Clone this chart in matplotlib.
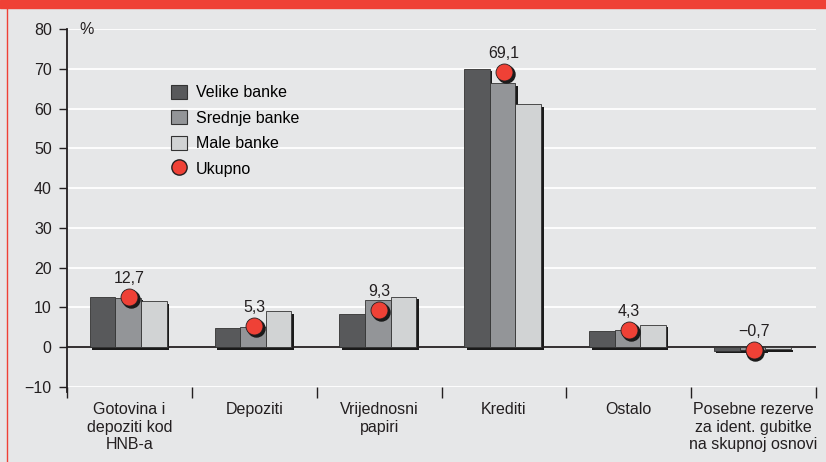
import matplotlib
matplotlib.use('Agg')
import matplotlib.pyplot as plt
import matplotlib.transforms as mtransforms
from matplotlib.patches import Patch, Rectangle
from matplotlib.lines import Line2D
import numpy as np

categories = ['Gotovina i\ndepoziti kod\nHNB-a', 'Depoziti', 'Vrijednosni\npapiri',
              'Krediti', 'Ostalo', 'Posebne rezerve\nza ident. gubitke\nna skupnoj osnovi']
velike = [12.6, 4.8, 8.3, 70.0, 4.1, -0.9]
srednje = [12.4, 5.1, 11.8, 66.4, 4.3, -0.7]
male = [11.5, 9.0, 12.7, 61.1, 5.7, -0.5]
ukupno = [12.7, 5.3, 9.3, 69.1, 4.3, -0.7]
ukupno_txt = ['12,7', '5,3', '9,3', '69,1', '4,3', '\u22120,7']
yticks = [-10, 0, 10, 20, 30, 40, 50, 60, 70, 80]
ytick_labels = ['\u221210', '0', '10', '20', '30', '40', '50', '60', '70', '80']

bg = '#e6e7e8'
red = '#ef4136'
cols = ['#58595b', '#939598', '#d1d3d4']
names = ['Velike banke', 'Srednje banke', 'Male banke']
fs = 11.5

plt.rcParams['font.family'] = ['Liberation Sans', 'DejaVu Sans']

fig = plt.figure(figsize=(8.26, 4.62), dpi=100, facecolor=bg)
ax = fig.add_axes([67/826, 1-387/462, 749/826, 358/462])
ax.set_facecolor(bg)

# banner and frame
fig.patches.append(Rectangle((0, 1-8/462), 1, 8/462, transform=fig.transFigure,
                             color=red, zorder=0))
fig.lines.append(Line2D([7/826, 7/826], [0, 1], transform=fig.transFigure,
                        color=red, lw=1.0))

x = np.arange(len(categories)) + 0.5
w = 0.205
shadow = mtransforms.offset_copy(ax.transData, fig=fig, x=2.5, y=-2.5, units='dots')
for i, vals in enumerate([velike, srednje, male]):
    xs = x + (i - 1) * w - 0.01
    ax.bar(xs, vals, w, color='#1a1a1a', transform=shadow, zorder=2)
    ax.bar(xs, vals, w, color=cols[i], edgecolor='#333333', linewidth=0.6, zorder=3)

ax.axhline(0, color='#231f20', lw=1.3, zorder=2.5)

sh2 = mtransforms.offset_copy(ax.transData, fig=fig, x=1.8, y=-1.8, units='dots')
ax.scatter(x, ukupno, s=150, color='#1a1a1a', transform=sh2, zorder=4)
ax.scatter(x, ukupno, s=150, color=red, edgecolor='#231f20', linewidth=0.6, zorder=5)
for xi, v, t in zip(x, ukupno, ukupno_txt):
    ax.annotate(t, (xi, v), xytext=(0, 8), textcoords='offset points',
                ha='center', va='bottom', fontsize=fs, color='#231f20')

ax.set_xlim(0, 6)
ax.set_ylim(-10, 80)
ax.set_yticks(yticks)
ax.set_yticklabels(ytick_labels, fontsize=fs, color='#231f20')
ax.yaxis.grid(True, color='white', lw=1.3)
ax.set_axisbelow(True)
ax.tick_params(axis='y', length=6, width=1, color='#231f20', pad=5)

ax.set_xticks(np.arange(0, 7), minor=False)
ax.set_xticklabels([])
ax.set_xticks(x, minor=True)
ax.set_xticklabels(categories, minor=True, fontsize=fs, color='#231f20', linespacing=1.2)
ax.tick_params(axis='x', which='major', length=8, width=1, color='#231f20', direction='out')
ax.tick_params(axis='x', which='minor', length=0, pad=11)

for s in ['top', 'right', 'bottom']:
    ax.spines[s].set_visible(False)
ax.spines['left'].set_color('#231f20')
ax.spines['left'].set_linewidth(1.3)
ax.spines['left'].set_bounds(-11.2, 80)

ax.text(0.017, 1.0, '%', transform=ax.transAxes, fontsize=fs, color='#231f20',
        ha='left', va='center')

handles = [Patch(facecolor=c, edgecolor='#333333', linewidth=0.8) for c in cols]
handles.append(Line2D([], [], marker='o', ls='none', markersize=11,
                      markerfacecolor=red, markeredgecolor='#231f20'))
leg = ax.legend(handles, names + ['Ukupno'], loc='upper left',
                bbox_to_anchor=(0.128, 0.867), frameon=False, fontsize=fs,
                handlelength=1.0, handleheight=1.0, handletextpad=0.55,
                labelspacing=0.62, borderpad=0)

fig.savefig('out.png', dpi=100, facecolor=bg)
